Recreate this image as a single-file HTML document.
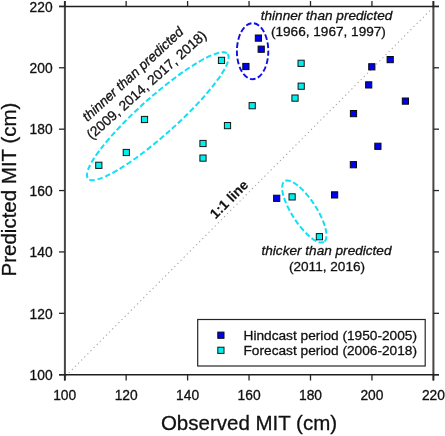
<!DOCTYPE html><html><head><meta charset="utf-8"><style>html,body{margin:0;padding:0;background:#fff;}svg{display:block;will-change:transform;}text{font-family:"Liberation Sans",sans-serif;fill:#111;stroke:#111;stroke-width:0.3px;}</style></head><body>
<svg width="445" height="436" viewBox="0 0 445 436">
<line x1="65.7" y1="376.0" x2="432.9" y2="7.6" stroke="#a4a4a4" stroke-width="1.1" stroke-dasharray="1.2 3.2"/>
<g stroke="#262626" fill="none">
<line x1="64.9" y1="1" x2="64.9" y2="380.5" stroke="#454545" stroke-width="2"/>
<line x1="433.4" y1="1" x2="433.4" y2="380.5" stroke="#454545" stroke-width="2"/>
<line x1="59" y1="6.5" x2="439" y2="6.5" stroke="#1e1e1e" stroke-width="1.4"/>
<line x1="59" y1="374.7" x2="439" y2="374.7" stroke="#1e1e1e" stroke-width="1.4"/>
<line x1="64.70" y1="1" x2="64.70" y2="6.4" stroke-width="1.3"/>
<line x1="64.70" y1="374.7" x2="64.70" y2="380.5" stroke-width="1.3"/>
<line x1="59" y1="374.70" x2="64.7" y2="374.70" stroke-width="1.3"/>
<line x1="433.4" y1="374.70" x2="439" y2="374.70" stroke-width="1.3"/>
<line x1="126.15" y1="1" x2="126.15" y2="6.4" stroke-width="1.3"/>
<line x1="126.15" y1="374.7" x2="126.15" y2="380.5" stroke-width="1.3"/>
<line x1="59" y1="313.32" x2="64.7" y2="313.32" stroke-width="1.3"/>
<line x1="433.4" y1="313.32" x2="439" y2="313.32" stroke-width="1.3"/>
<line x1="187.60" y1="1" x2="187.60" y2="6.4" stroke-width="1.3"/>
<line x1="187.60" y1="374.7" x2="187.60" y2="380.5" stroke-width="1.3"/>
<line x1="59" y1="251.93" x2="64.7" y2="251.93" stroke-width="1.3"/>
<line x1="433.4" y1="251.93" x2="439" y2="251.93" stroke-width="1.3"/>
<line x1="249.05" y1="1" x2="249.05" y2="6.4" stroke-width="1.3"/>
<line x1="249.05" y1="374.7" x2="249.05" y2="380.5" stroke-width="1.3"/>
<line x1="59" y1="190.55" x2="64.7" y2="190.55" stroke-width="1.3"/>
<line x1="433.4" y1="190.55" x2="439" y2="190.55" stroke-width="1.3"/>
<line x1="310.50" y1="1" x2="310.50" y2="6.4" stroke-width="1.3"/>
<line x1="310.50" y1="374.7" x2="310.50" y2="380.5" stroke-width="1.3"/>
<line x1="59" y1="129.17" x2="64.7" y2="129.17" stroke-width="1.3"/>
<line x1="433.4" y1="129.17" x2="439" y2="129.17" stroke-width="1.3"/>
<line x1="371.95" y1="1" x2="371.95" y2="6.4" stroke-width="1.3"/>
<line x1="371.95" y1="374.7" x2="371.95" y2="380.5" stroke-width="1.3"/>
<line x1="59" y1="67.78" x2="64.7" y2="67.78" stroke-width="1.3"/>
<line x1="433.4" y1="67.78" x2="439" y2="67.78" stroke-width="1.3"/>
<line x1="433.40" y1="1" x2="433.40" y2="6.4" stroke-width="1.3"/>
<line x1="433.40" y1="374.7" x2="433.40" y2="380.5" stroke-width="1.3"/>
<line x1="59" y1="6.40" x2="64.7" y2="6.40" stroke-width="1.3"/>
<line x1="433.4" y1="6.40" x2="439" y2="6.40" stroke-width="1.3"/>
</g>
<g font-size="13.8">
<text x="52.6" y="379.90" text-anchor="end">100</text>
<text x="64.70" y="399.8" text-anchor="middle">100</text>
<text x="52.6" y="318.52" text-anchor="end">120</text>
<text x="126.15" y="399.8" text-anchor="middle">120</text>
<text x="52.6" y="257.13" text-anchor="end">140</text>
<text x="187.60" y="399.8" text-anchor="middle">140</text>
<text x="52.6" y="195.75" text-anchor="end">160</text>
<text x="249.05" y="399.8" text-anchor="middle">160</text>
<text x="52.6" y="134.37" text-anchor="end">180</text>
<text x="310.50" y="399.8" text-anchor="middle">180</text>
<text x="52.6" y="72.98" text-anchor="end">200</text>
<text x="371.95" y="399.8" text-anchor="middle">200</text>
<text x="52.6" y="11.60" text-anchor="end">220</text>
<text x="433.40" y="399.8" text-anchor="middle">220</text>
</g>
<text x="249" y="430.3" text-anchor="middle" font-size="20.5">Observed MIT (cm)</text>
<text transform="translate(16,189.5) rotate(-90)" x="0" y="0" text-anchor="middle" font-size="20.5">Predicted MIT (cm)</text>
<ellipse cx="252.6" cy="51.2" rx="15.7" ry="28" fill="none" stroke="#1010e6" stroke-width="1.9" stroke-dasharray="5.7 2.54" stroke-dashoffset="1.05"/>
<ellipse transform="translate(157.8,116.2) rotate(-41.8)" cx="0" cy="0" rx="93.6" ry="18.8" fill="none" stroke="#0fe0f5" stroke-width="2" stroke-dasharray="5.6 2.62"/>
<ellipse transform="translate(304.3,211.5) rotate(57)" cx="0" cy="0" rx="36.2" ry="12.2" fill="none" stroke="#0fe0f5" stroke-width="2" stroke-dasharray="5.6 2.55"/>
<rect x="255.30" y="35.00" width="6.2" height="6.2" fill="#0000f0" stroke="#0a0a0a" stroke-width="1.0"/>
<rect x="258.10" y="46.10" width="6.2" height="6.2" fill="#0000f0" stroke="#0a0a0a" stroke-width="1.0"/>
<rect x="242.80" y="63.40" width="6.2" height="6.2" fill="#0000f0" stroke="#0a0a0a" stroke-width="1.0"/>
<rect x="273.60" y="195.20" width="6.2" height="6.2" fill="#0000f0" stroke="#0a0a0a" stroke-width="1.0"/>
<rect x="331.50" y="191.80" width="6.2" height="6.2" fill="#0000f0" stroke="#0a0a0a" stroke-width="1.0"/>
<rect x="350.30" y="161.60" width="6.2" height="6.2" fill="#0000f0" stroke="#0a0a0a" stroke-width="1.0"/>
<rect x="350.40" y="110.50" width="6.2" height="6.2" fill="#0000f0" stroke="#0a0a0a" stroke-width="1.0"/>
<rect x="365.60" y="81.80" width="6.2" height="6.2" fill="#0000f0" stroke="#0a0a0a" stroke-width="1.0"/>
<rect x="368.70" y="63.70" width="6.2" height="6.2" fill="#0000f0" stroke="#0a0a0a" stroke-width="1.0"/>
<rect x="374.80" y="143.20" width="6.2" height="6.2" fill="#0000f0" stroke="#0a0a0a" stroke-width="1.0"/>
<rect x="387.10" y="56.50" width="6.2" height="6.2" fill="#0000f0" stroke="#0a0a0a" stroke-width="1.0"/>
<rect x="402.30" y="98.00" width="6.2" height="6.2" fill="#0000f0" stroke="#0a0a0a" stroke-width="1.0"/>
<rect x="95.70" y="162.20" width="6.2" height="6.2" fill="#00f0f0" stroke="#141414" stroke-width="1.0"/>
<rect x="123.20" y="149.40" width="6.2" height="6.2" fill="#00f0f0" stroke="#141414" stroke-width="1.0"/>
<rect x="141.40" y="116.40" width="6.2" height="6.2" fill="#00f0f0" stroke="#141414" stroke-width="1.0"/>
<rect x="218.40" y="57.30" width="6.2" height="6.2" fill="#00f0f0" stroke="#141414" stroke-width="1.0"/>
<rect x="199.90" y="140.40" width="6.2" height="6.2" fill="#00f0f0" stroke="#141414" stroke-width="1.0"/>
<rect x="199.90" y="155.00" width="6.2" height="6.2" fill="#00f0f0" stroke="#141414" stroke-width="1.0"/>
<rect x="224.40" y="122.50" width="6.2" height="6.2" fill="#00f0f0" stroke="#141414" stroke-width="1.0"/>
<rect x="249.10" y="102.60" width="6.2" height="6.2" fill="#00f0f0" stroke="#141414" stroke-width="1.0"/>
<rect x="289.00" y="193.80" width="6.2" height="6.2" fill="#00f0f0" stroke="#141414" stroke-width="1.0"/>
<rect x="316.30" y="233.60" width="6.2" height="6.2" fill="#00f0f0" stroke="#141414" stroke-width="1.0"/>
<rect x="298.00" y="60.20" width="6.2" height="6.2" fill="#00f0f0" stroke="#141414" stroke-width="1.0"/>
<rect x="298.10" y="83.10" width="6.2" height="6.2" fill="#00f0f0" stroke="#141414" stroke-width="1.0"/>
<rect x="291.90" y="95.00" width="6.2" height="6.2" fill="#00f0f0" stroke="#141414" stroke-width="1.0"/>
<g font-size="13.6">
<text x="326.5" y="19.8" text-anchor="middle" font-style="italic">thinner than predicted</text>
<text x="328.4" y="36" text-anchor="middle">(1966, 1967, 1997)</text>
<text x="326.5" y="254.5" text-anchor="middle" font-style="italic">thicker than predicted</text>
<text x="327" y="271.1" text-anchor="middle">(2011, 2016)</text>
<g transform="translate(136,77.5) rotate(-42.6)"><text x="0" y="0" text-anchor="middle" font-style="italic">thinner than predicted</text><text transform="translate(-74.9,16.2) rotate(0.8)" x="0" y="0" text-anchor="start" font-size="13.82">(2009, 2014, 2017, 2018)</text></g>
</g>
<text transform="translate(229,199.3) rotate(-45)" x="0" y="4.8" text-anchor="middle" font-size="13.8" font-weight="bold" style="stroke-width:0.1px">1:1 line</text>
<rect x="197.7" y="319.5" width="227.5" height="46.5" fill="#fff" stroke="#262626" stroke-width="1.2"/>
<rect x="217.80" y="332.10" width="6.2" height="6.2" fill="#0000f0" stroke="#0a0a0a" stroke-width="1.0"/>
<rect x="217.80" y="347.20" width="6.2" height="6.2" fill="#00f0f0" stroke="#141414" stroke-width="1.0"/>
<g font-size="13.7"><text x="243.5" y="339.8">Hindcast period (1950-2005)</text><text x="243.5" y="355.1">Forecast period (2006-2018)</text></g>
</svg></body></html>
